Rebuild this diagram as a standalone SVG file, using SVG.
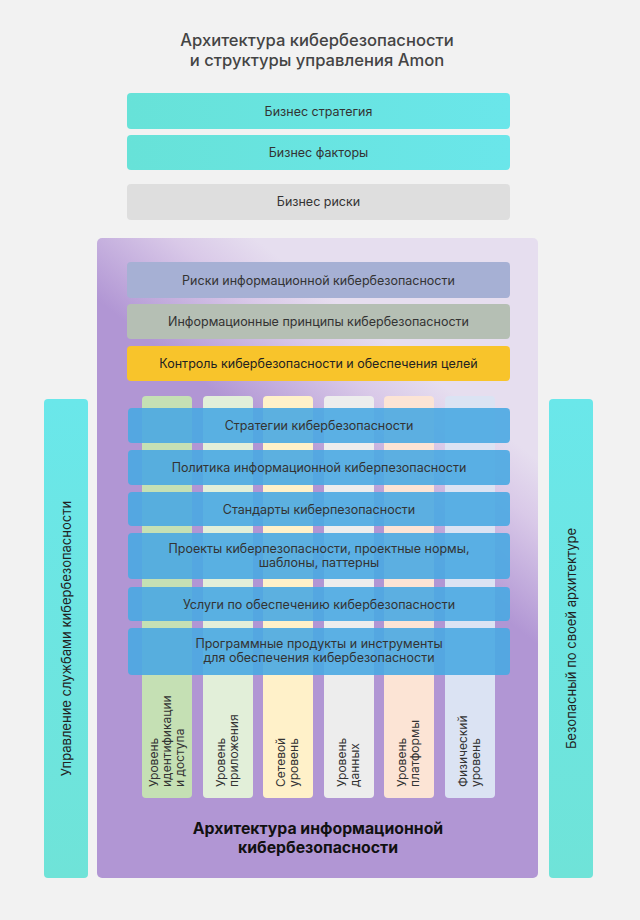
<svg xmlns="http://www.w3.org/2000/svg" width="640" height="920" viewBox="0 0 640 920">
<defs>
<linearGradient id="gPurple" gradientUnits="userSpaceOnUse" x1="385" y1="340" x2="295" y2="455">
<stop offset="0" stop-color="#e6deef"/>
<stop offset="0.35" stop-color="#d9c9e8"/>
<stop offset="1" stop-color="#b196d4"/>
</linearGradient>
<linearGradient id="gTeal" x1="0" y1="0" x2="1" y2="0">
<stop offset="0" stop-color="#67e2d8"/>
<stop offset="1" stop-color="#6ae6ea"/>
</linearGradient>
<linearGradient id="gTealV" x1="0" y1="0" x2="0" y2="1">
<stop offset="0" stop-color="#6ae7ea"/>
<stop offset="1" stop-color="#6fe3d8"/>
</linearGradient>
<style>
text{font-family:Inter,"Noto Sans",sans-serif;fill:#333;}
.lbl{font-size:12.5px;text-anchor:middle;}
.col{font-size:12px;}
.side{font-size:13px;text-anchor:middle;fill:#222;}
.blue rect{fill:#4aa9e2;fill-opacity:0.9;}
</style>
</defs>
<rect x="0" y="0" width="640" height="920" fill="#f2f2f2"/>
<g id="title">
<text x="317" y="46" text-anchor="middle" style="font-size:16.6px;font-weight:500;fill:#444">Архитектура кибербезопасности</text>
<text x="317" y="66" text-anchor="middle" style="font-size:16.6px;font-weight:500;fill:#444">и структуры управления Amon</text>
</g>
<g id="biz-strategy"><rect x="127" y="93" width="383" height="36" rx="4" fill="url(#gTeal)"/><text class="lbl" x="318.5" y="115.5">Бизнес стратегия</text></g>
<g id="biz-factors"><rect x="127" y="135" width="383" height="35" rx="4" fill="url(#gTeal)"/><text class="lbl" x="318.5" y="157">Бизнес факторы</text></g>
<g id="biz-risks"><rect x="127" y="184" width="383" height="36" rx="4" fill="#dedede"/><text class="lbl" x="318.5" y="206">Бизнес риски</text></g>
<g id="left-bar"><rect x="44" y="399" width="44" height="479" rx="4" fill="url(#gTealV)"/><text class="side" transform="translate(70.5 638.5) rotate(-90)">Управление службами кибербезопасности</text></g>
<g id="right-bar"><rect x="549" y="399" width="44" height="479" rx="4" fill="url(#gTealV)"/><text class="side" transform="translate(575.5 638.5) rotate(-90)">Безопасный по своей архитектуре</text></g>
<g id="arch">
<rect x="97" y="238" width="441" height="640" rx="5" fill="url(#gPurple)"/>
<text x="318" y="834" text-anchor="middle" style="font-size:15.8px;font-weight:700;fill:#111">Архитектура информационной</text>
<text x="318" y="853" text-anchor="middle" style="font-size:15.8px;font-weight:700;fill:#111">кибербезопасности</text>
</g>
<g id="risks-info"><rect x="127" y="262" width="383" height="36" rx="4" fill="#a6b0d4"/><text class="lbl" x="318.5" y="284.5">Риски информационной кибербезопасности</text></g>
<g id="principles"><rect x="127" y="304" width="383" height="35" rx="4" fill="#b5bfb4"/><text class="lbl" x="318.5" y="326">Информационные принципы кибербезопасности</text></g>
<g id="control"><rect x="127" y="346" width="383" height="35" rx="4" fill="#f8c42b"/><text class="lbl" x="318.5" y="368" style="fill:#222">Контроль кибербезопасности и обеспечения целей</text></g>
<g id="col-identity"><rect x="142" y="396" width="50" height="402" rx="4" fill="#c5e0b4"/><text class="col" transform="translate(0 787) rotate(-90)"><tspan x="0" y="158">Уровень</tspan><tspan x="0" y="171">идентификации</tspan><tspan x="0" y="184">и доступа</tspan></text></g>
<g id="col-app"><rect x="203" y="396" width="50" height="402" rx="4" fill="#e2efd9"/><text class="col" transform="translate(0 787) rotate(-90)"><tspan x="0" y="225">Уровень</tspan><tspan x="0" y="238">приложения</tspan></text></g>
<g id="col-net"><rect x="263" y="396" width="50" height="402" rx="4" fill="#fff1c9"/><text class="col" transform="translate(0 787) rotate(-90)"><tspan x="0" y="285">Сетевой</tspan><tspan x="0" y="298">уровень</tspan></text></g>
<g id="col-data"><rect x="324" y="396" width="50" height="402" rx="4" fill="#ededed"/><text class="col" transform="translate(0 787) rotate(-90)"><tspan x="0" y="346">Уровень</tspan><tspan x="0" y="359">данных</tspan></text></g>
<g id="col-platform"><rect x="384" y="396" width="50" height="402" rx="4" fill="#fce4d5"/><text class="col" transform="translate(0 787) rotate(-90)"><tspan x="0" y="406">Уровень</tspan><tspan x="0" y="419">платформы</tspan></text></g>
<g id="col-physical"><rect x="445" y="396" width="50" height="402" rx="4" fill="#dbe3f3"/><text class="col" transform="translate(0 787) rotate(-90)"><tspan x="0" y="467">Физический</tspan><tspan x="0" y="480">уровень</tspan></text></g>
<g class="blue">
<g id="b-strategy"><rect x="128" y="408" width="382" height="35" rx="4"/><text class="lbl" x="319" y="430">Стратегии кибербезопасности</text></g>
<g id="b-policy"><rect x="128" y="450" width="382" height="35" rx="4"/><text class="lbl" x="319" y="472">Политика информационной киберпезопасности</text></g>
<g id="b-standards"><rect x="128" y="492" width="382" height="34" rx="4"/><text class="lbl" x="319" y="513.5">Стандарты киберпезопасности</text></g>
<g id="b-projects"><rect x="128" y="533" width="382" height="46" rx="4"/><text class="lbl" x="319" y="553">Проекты киберпезопасности, проектные нормы,</text><text class="lbl" x="319" y="567">шаблоны, паттерны</text></g>
<g id="b-services"><rect x="128" y="587" width="382" height="34" rx="4"/><text class="lbl" x="319" y="608.5">Услуги по обеспечению кибербезопасности</text></g>
<g id="b-software"><rect x="128" y="628" width="382" height="47" rx="4"/><text class="lbl" x="319" y="648">Программные продукты и инструменты</text><text class="lbl" x="319" y="662">для обеспечения кибербезопасности</text></g>
</g>
<g id="connectors"></g>
</svg>
